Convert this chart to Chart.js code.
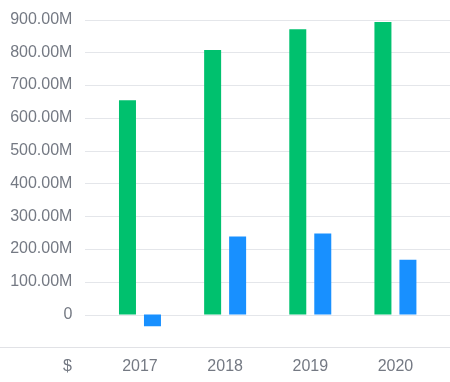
<!DOCTYPE html>
<html>
<head>
<meta charset="utf-8">
<script src="https://cdn.jsdelivr.net/npm/chart.js@4"></script>
<style>
html,body{margin:0;padding:0;background:#fff;}
#wrap{width:450px;height:382px;position:relative;}
</style>
</head>
<body>
<div id="wrap"><canvas id="c" width="450" height="382"></canvas></div>
<script>
const categories = ['2017', '2018', '2019', '2020'];
const seriesGreen = [654e6, 807e6, 870e6, 892e6];
const seriesBlue = [-36e6, 238e6, 247e6, 167e6];
const yMin = -100e6, yMax = 900e6, yStep = 100e6;
const currencyLabel = '$';
const textColor = '#747983';

function fmt(v) {
  if (v === 0) return '0';
  if (v < 0) return '';
  return (v / 1e6).toFixed(2) + 'M';
}

const gridPlugin = {
  id: 'gridPlugin',
  beforeDatasetsDraw(chart) {
    const ctx = chart.ctx, y = chart.scales.y;
    ctx.save();
    ctx.lineWidth = 1;
    y.ticks.forEach(t => {
      const py = Math.round(y.getPixelForValue(t.value)) + 0.5;
      ctx.beginPath();
      if (t.value === yMin) {
        ctx.strokeStyle = '#e1e2e6';
        ctx.moveTo(0, py); ctx.lineTo(450, py);
      } else {
        ctx.strokeStyle = '#e4e6ea';
        ctx.moveTo(85, py); ctx.lineTo(450, py);
      }
      ctx.stroke();
    });
    ctx.fillStyle = textColor;
    ctx.font = '16px "Liberation Sans", Arial, sans-serif';
    ctx.textAlign = 'right';
    ctx.textBaseline = 'middle';
    const lx = chart.scales.x;
    const ly = lx.top + 10 + 9.6;
    ctx.fillText(currencyLabel, 72, ly);
    ctx.restore();
  }
};

new Chart(document.getElementById('c'), {
  type: 'bar',
  data: {
    labels: categories,
    datasets: [
      { data: seriesGreen, backgroundColor: '#00c16e', borderWidth: 0, categoryPercentage: 0.587, barPercentage: 0.68 },
      { data: seriesBlue, backgroundColor: '#1890ff', borderWidth: 0, categoryPercentage: 0.587, barPercentage: 0.68 }
    ]
  },
  options: {
    responsive: false,
    animation: false,
    devicePixelRatio: 1,
    layout: { padding: { top: 19.5, right: 12, bottom: 0, left: 0 } },
    plugins: { legend: { display: false }, tooltip: { enabled: false } },
    scales: {
      x: {
        grid: { display: false, drawTicks: false },
        border: { display: false },
        ticks: { color: textColor, font: { size: 16, family: '"Liberation Sans", Arial, sans-serif' }, padding: 10, maxRotation: 0 },
        afterFit(scale) { scale.height = 34.7; scale.paddingLeft = 0; scale.paddingRight = 0; }
      },
      y: {
        min: yMin, max: yMax,
        grid: { display: false, drawTicks: false },
        border: { display: false },
        ticks: { stepSize: yStep, callback: v => fmt(v), color: textColor, font: { size: 16, family: '"Liberation Sans", Arial, sans-serif' }, padding: 25 },
        afterFit(scale) { scale.width = 97.4; scale.paddingTop = 0; scale.paddingBottom = 0; }
      }
    }
  },
  plugins: [gridPlugin]
});
</script>
</body>
</html>
